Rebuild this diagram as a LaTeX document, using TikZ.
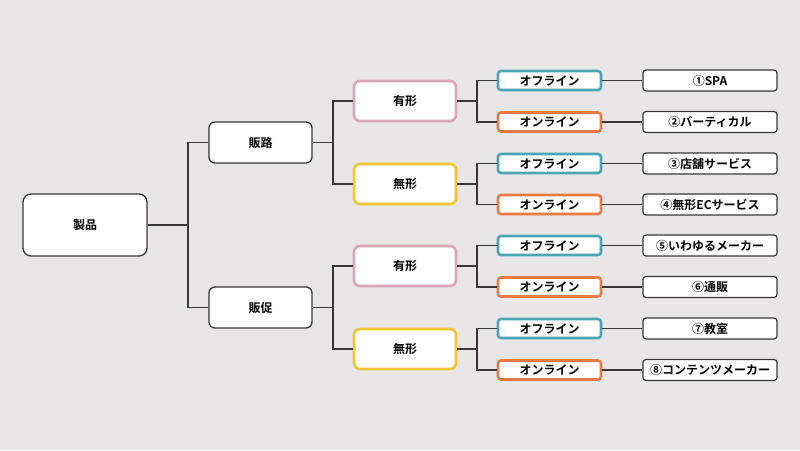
\documentclass[tikz,border=0pt]{standalone}
\usepackage{fontspec}
\setmainfont{Noto Sans CJK JP}[BoldFont={Noto Sans CJK JP Bold}]
\definecolor{bg}{HTML}{E8E6E6}
\definecolor{linec}{HTML}{383838}
\definecolor{pinkc}{HTML}{D9A7B5}
\definecolor{yellowc}{HTML}{F2C531}
\definecolor{tealc}{HTML}{4BA5B5}
\definecolor{orangec}{HTML}{E87B45}
\tikzset{
  base/.style={draw=linec, fill=white, line width=1.3pt, inner sep=0pt, align=center, font=\fontsize{12}{14}\selectfont\bfseries},
  rootbox/.style={base, minimum width=124pt, minimum height=62pt, rounded corners=8pt},
  midbox/.style={base, minimum width=103pt, minimum height=41pt, rounded corners=6pt},
  yukeibox/.style={base, draw=pinkc, line width=2.6pt, minimum width=102pt, minimum height=40pt, rounded corners=6pt},
  mukeibox/.style={base, draw=yellowc, line width=2.6pt, minimum width=102pt, minimum height=40pt, rounded corners=6pt},
  offbox/.style={base, draw=tealc, line width=2.6pt, minimum width=103pt, minimum height=19pt, rounded corners=3pt},
  onbox/.style={base, draw=orangec, line width=2.6pt, minimum width=103pt, minimum height=19pt, rounded corners=3pt},
  resbox/.style={base, line width=1.2pt, minimum width=134pt, minimum height=21pt, rounded corners=3pt},
  conn/.style={draw=linec, line width=1.2pt}
}
\begin{document}
\begin{tikzpicture}[x=1pt,y=-1pt]
\fill[bg] (0,0) rectangle (800,450);
\useasboundingbox (0,0) rectangle (800,450);

\node[rootbox] (seihin) at (85,225) {製品};
\node[midbox] (hanro) at (260.5,142.5) {販路};
\node[midbox] (hansoku) at (260.5,307.5) {販促};

\node[yukeibox] (y1) at (405,101) {有形};
\node[mukeibox] (m1) at (405,184) {無形};
\node[yukeibox] (y2) at (405,266) {有形};
\node[mukeibox] (m2) at (405,349) {無形};

\node[offbox] (c1) at (549.5,80.5) {オフライン};
\node[onbox]  (c2) at (549.5,122) {オンライン};
\node[offbox] (c3) at (549.5,163.5) {オフライン};
\node[onbox]  (c4) at (549.5,204.5) {オンライン};
\node[offbox] (c5) at (549.5,245.5) {オフライン};
\node[onbox]  (c6) at (549.5,287) {オンライン};
\node[offbox] (c7) at (549.5,328.5) {オフライン};
\node[onbox]  (c8) at (549.5,370) {オンライン};

\node[resbox] (r1) at (710,80.5) {①SPA};
\node[resbox] (r2) at (710,122) {②バーティカル};
\node[resbox] (r3) at (710,163.5) {③店舗サービス};
\node[resbox] (r4) at (710,204.5) {④無形ECサービス};
\node[resbox] (r5) at (710,245.5) {⑤いわゆるメーカー};
\node[resbox] (r6) at (710,287) {⑥通販};
\node[resbox] (r7) at (710,328.5) {⑦教室};
\node[resbox] (r8) at (710,370) {⑧コンテンツメーカー};

% level 1
\coordinate (j0) at (188,225);
\draw[conn] (seihin.east) -- (j0);
\draw[conn] (j0) |- (hanro.west);
\draw[conn] (j0) |- (hansoku.west);

% level 2
\coordinate (j1) at (333,142.5);
\coordinate (j2) at (333,307.5);
\draw[conn] (hanro.east) -- (j1);
\draw[conn] (j1) |- (y1.west);
\draw[conn] (j1) |- (m1.west);
\draw[conn] (hansoku.east) -- (j2);
\draw[conn] (j2) |- (y2.west);
\draw[conn] (j2) |- (m2.west);

% level 3
\coordinate (k1) at (477,101);
\coordinate (k2) at (477,184);
\coordinate (k3) at (477,266);
\coordinate (k4) at (477,349);
\draw[conn] (y1.east) -- (k1);
\draw[conn] (k1) |- (c1.west);
\draw[conn] (k1) |- (c2.west);
\draw[conn] (m1.east) -- (k2);
\draw[conn] (k2) |- (c3.west);
\draw[conn] (k2) |- (c4.west);
\draw[conn] (y2.east) -- (k3);
\draw[conn] (k3) |- (c5.west);
\draw[conn] (k3) |- (c6.west);
\draw[conn] (m2.east) -- (k4);
\draw[conn] (k4) |- (c7.west);
\draw[conn] (k4) |- (c8.west);

% level 4
\foreach \i in {1,...,8} {
  \draw[conn] (c\i.east) -- (r\i.west);
}
\end{tikzpicture}
\end{document}
